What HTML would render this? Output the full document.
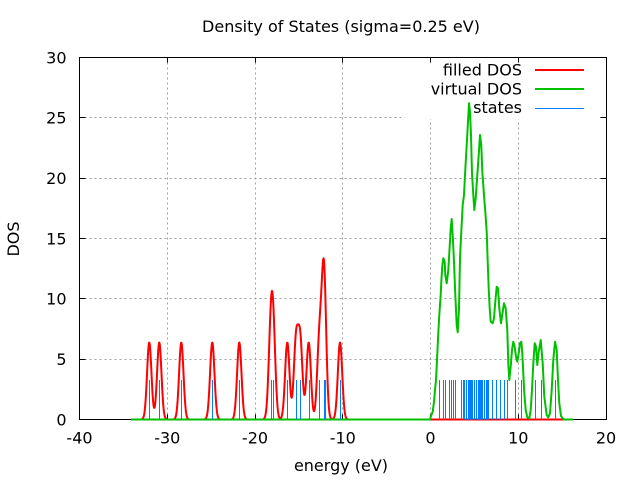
<!DOCTYPE html>
<html>
<head>
<meta charset="utf-8">
<style>
  html,body{margin:0;padding:0;background:#fff;}
  svg{display:block;}
  text{font-family:"DejaVu Sans","Liberation Sans",sans-serif;font-size:16px;fill:#000;}
</style>
</head>
<body>
<svg id="chart" width="640" height="480" viewBox="0 0 640 480" xmlns="http://www.w3.org/2000/svg">
  <rect x="0" y="0" width="640" height="480" fill="#fff"/>
  <!-- grid -->
  <g stroke="#a0a0a0" stroke-width="1" stroke-dasharray="2,3" fill="none">
    <line x1="167.5" y1="57.5" x2="167.5" y2="419.5"/>
    <line x1="255.5" y1="57.5" x2="255.5" y2="419.5"/>
    <line x1="342.5" y1="57.5" x2="342.5" y2="419.5"/>
    <line x1="430.5" y1="57.5" x2="430.5" y2="419.5"/>
    <line x1="518.5" y1="57.5" x2="518.5" y2="419.5"/>
    <line x1="79.5" y1="359.5" x2="606.5" y2="359.5"/>
    <line x1="79.5" y1="298.5" x2="606.5" y2="298.5"/>
    <line x1="79.5" y1="238.5" x2="606.5" y2="238.5"/>
    <line x1="79.5" y1="178.5" x2="606.5" y2="178.5"/>
    <line x1="79.5" y1="117.5" x2="606.5" y2="117.5"/>
  </g>
  <!-- legend background -->
  <rect x="405" y="58" width="195" height="61" fill="#fff"/>
  <!-- border and ticks -->
  <g stroke="#000" stroke-width="1" fill="none">
    <rect x="79.5" y="57.5" width="527" height="362"/>
    <path d="M79.5 359.5h6M79.5 298.5h6M79.5 238.5h6M79.5 178.5h6M79.5 117.5h6
             M606.5 359.5h-6M606.5 298.5h-6M606.5 238.5h-6M606.5 178.5h-6M606.5 117.5h-6
             M167.5 419.5v-5M255.5 419.5v-5M342.5 419.5v-5M430.5 419.5v-5M518.5 419.5v-5
             M167.5 57.5v5M255.5 57.5v5M342.5 57.5v5M430.5 57.5v5M518.5 57.5v5"/>
  </g>
  <!-- red filled DOS -->
  <path id="red" d="" stroke="#ff0000" stroke-width="2" fill="none" stroke-linejoin="round"/>
  <!-- green virtual DOS -->
  <polyline fill="none" stroke="#00c000" stroke-width="2" stroke-linejoin="round" points="
131,419.5 430,419.5 431,416 432.7,411.7 434,401.7 435,390 436,380 437,360 438.3,333 439.3,315 440.7,295 441.3,281.7 442.3,265.7 443.3,258.3 444.7,261.7 445.3,275 446.7,283.3 448.3,270 449.3,253.3 450.7,228.3 451.7,219 452.7,235 454,261.7 455.3,295 456.7,325 457.7,332.3 459,308.3 460,258.3 461.3,231.7 462.7,205 464,195 465,175 466.7,145 468,121.7 469,103.3 470,111.7 471,135 472,173.3 473.3,195 474.3,210 475.7,198.3 477.3,175 478.7,155 480,135 481.3,145 482.3,171.7 484,195 485.3,211.7 486.7,231.7 487.7,261.7 488.7,288.3 489.7,308.3 490.7,321.7 492.7,323.3 494,318.3 495.3,301.7 496.7,286.7 498,288.3 499.3,308.3 501,323.3 502.7,311.7 504,303.3 505.7,308.3 507.3,330 508.3,363.3 509.3,380 510.7,366.7 512,350 513.3,341.7 514.7,346.7 516,356.7 517.3,361.7 518.7,353.3 520,343.3 521.3,341.7 522.3,353.3 523.3,373.3 524.3,393.3 525.7,410 527.3,417.3 529.3,418.3 530.7,410 532,390 533.3,363.3 534.7,343.3 536,346.7 537.3,365 538.7,352 540.7,340 542.7,363.3 544.3,396.7 546.7,415 548.3,417.3 550,413.3 551.7,390 553.3,360 555,341.7 556.7,350 558,380 559.3,403.3 561,416 562.7,418.3 564,419.5 573,419.5"/>
  <!-- states -->
  <g id="states" stroke="#0080ff" stroke-width="1"></g>
  <!-- legend -->
  <text x="522" y="75.5" text-anchor="end">filled DOS</text>
  <text x="522" y="94.5" text-anchor="end">virtual DOS</text>
  <text x="522" y="113" text-anchor="end">states</text>
  <line x1="535" y1="70" x2="584" y2="70" stroke="#ff0000" stroke-width="2"/>
  <line x1="535" y1="89" x2="584" y2="89" stroke="#00c000" stroke-width="2"/>
  <line x1="535" y1="108.5" x2="584" y2="108.5" stroke="#0080ff" stroke-width="1"/>
  <!-- tick labels -->
  <g text-anchor="end">
    <text x="66.5" y="425.3">0</text>
    <text x="66.5" y="365">5</text>
    <text x="66.5" y="304.6">10</text>
    <text x="66.5" y="244.3">15</text>
    <text x="66.5" y="184">20</text>
    <text x="66.5" y="123.6">25</text>
    <text x="66.5" y="63.3">30</text>
  </g>
  <g text-anchor="middle">
    <text x="79.5" y="443.5">-40</text>
    <text x="167.3" y="443.5">-30</text>
    <text x="255" y="443.5">-20</text>
    <text x="342.8" y="443.5">-10</text>
    <text x="430.5" y="443.5">0</text>
    <text x="518.3" y="443.5">10</text>
    <text x="606" y="443.5">20</text>
  </g>
  <text x="341" y="32" text-anchor="middle">Density of States (sigma=0.25 eV)</text>
  <text x="341" y="471" text-anchor="middle">energy (eV)</text>
  <text x="0" y="0" text-anchor="middle" transform="translate(19,239) rotate(-90)">DOS</text>
</svg>
<script>
(function(){
  var X=function(e){return 79.5+(e+40)*8.775;};
  var Y=function(v){return 419.5-v*12.067;};
  var st=[-32.05,-30.91,-28.40,-24.87,-21.79,-18.21,-17.91,-16.32,-15.33,-14.84,-13.88,-12.67,-12.2,-12.1,-10.31];
  var d='';
  for(var e=-34.1;e<=16.001;e+=0.04){
    var v=0;
    for(var i=0;i<st.length;i++){var t=e-st[i];v+=6.38*Math.exp(-t*t/0.125);}
    d+=(d?'L':'M')+X(e).toFixed(2)+' '+Y(v).toFixed(2);
  }
  document.getElementById('red').setAttribute('d',d);
  var px=[149.3,159.3,181.3,212.3,239.3,270.7,273.3,287.3,296,300.3,308.7,319.3,324.4,325.3,340,
          439.3,443.3,445.3,449.3,451.3,453.3,455.3,461.3,462.7,464,466,468,469,470,471,472,474,476,478,479,480,481,482,484,486,487,488,492,496,499.5,504.3,507.3,515.3,521.3,535,541.3,555.3];
  var g=document.getElementById('states');
  var ns='http://www.w3.org/2000/svg';
  for(var j=0;j<px.length;j++){
    var x=Math.round(px[j])+0.5;
    var l=document.createElementNS(ns,'line');
    l.setAttribute('x1',x);l.setAttribute('x2',x);
    l.setAttribute('y1',419.5);l.setAttribute('y2',380);
    g.appendChild(l);
  }
})();
</script>
</body>
</html>
